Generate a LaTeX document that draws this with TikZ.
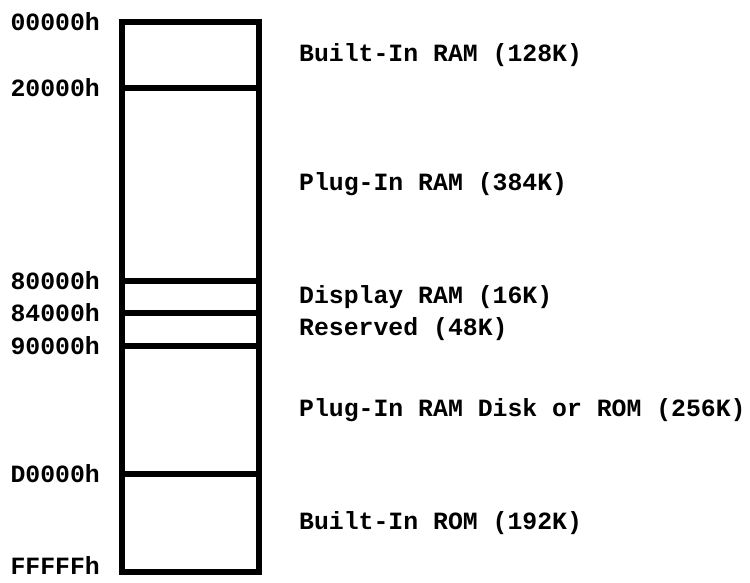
\documentclass[tikz,border=0pt]{standalone}
\usepackage{fontspec}
\setmonofont{Liberation Mono}
\usetikzlibrary{positioning}

\begin{document}
\begin{tikzpicture}[
    x=1pt, y=-1pt,
    region/.style={rectangle, draw, line width=6pt, minimum width=137pt, inner sep=0pt, outer sep=0pt},
    addr/.style={font=\ttfamily\bfseries\fontsize{24.8}{30}\selectfont, inner sep=0pt},
    desc/.style={font=\ttfamily\bfseries\fontsize{24.8}{30}\selectfont, inner sep=0pt}
]
\useasboundingbox (0,0) rectangle (750,582);

% memory regions, top to bottom
\node[region, minimum height=66pt, anchor=north] (bram) at (190.5,22) {};
\node[region, minimum height=193pt, below=0pt of bram] (pram) {};
\node[region, minimum height=32pt, below=0pt of pram] (dram) {};
\node[region, minimum height=33pt, below=0pt of dram] (resv) {};
\node[region, minimum height=128pt, below=0pt of resv] (disk) {};
\node[region, minimum height=98pt, below=0pt of disk] (brom) {};

% addresses
\node[addr, left=22pt of bram.north west] (a00) {00000h};
\node[addr, left=22pt of pram.north west] (a20) {20000h};
\node[addr, left=22pt of dram.north west] (a80) {80000h};
\node[addr, left=22pt of resv.north west] (a84) {84000h};
\node[addr, left=22pt of disk.north west] (a90) {90000h};
\node[addr, left=22pt of brom.north west] (ad0) {D0000h};
\node[addr, left=22pt of brom.south west, yshift=6pt] (aff) {FFFFFh};

% descriptions
\node[desc, right=40pt of bram.east] (dbram) {Built-In RAM (128K)};
\node[desc, right=40pt of pram.east] (dpram) {Plug-In RAM (384K)};
\node[desc, right=40pt of dram.east] (ddram) {Display RAM (16K)};
\node[desc, right=40pt of resv.east] (dresv) {Reserved (48K)};
\node[desc, right=40pt of disk.east] (ddisk) {Plug-In RAM Disk or ROM (256K)};
\node[desc, right=40pt of brom.east] (dbrom) {Built-In ROM (192K)};

\end{tikzpicture}
\end{document}
